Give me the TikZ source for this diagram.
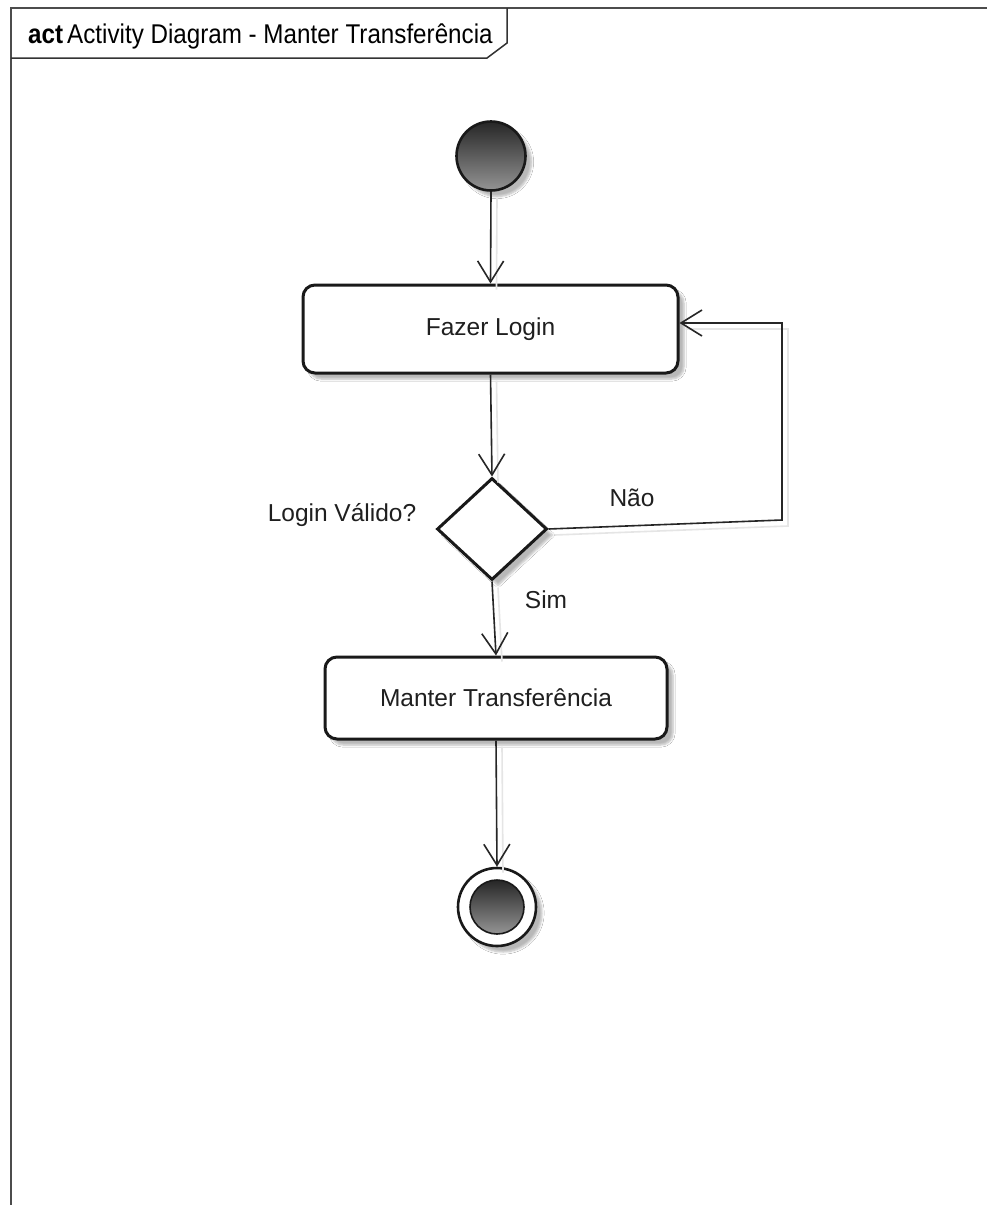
\documentclass[tikz,border=0pt]{standalone}
\usepackage{fontspec}
\setmainfont{Liberation Sans}
\usetikzlibrary{arrows.meta,shapes.geometric,shadows.blur}

\tikzset{
  lbl/.style={font=\fontsize{24.5}{28}\selectfont, text=black!88, inner sep=0pt},
  softshadow/.style={blur shadow={shadow xshift=6pt, shadow yshift=-6pt,
      shadow blur steps=6, shadow opacity=28}},
  action/.style={lbl, draw=black!90, line width=3pt, rounded corners=12pt,
      fill=white, softshadow},
  decision/.style={diamond, draw=black!90, line width=3pt, fill=white,
      inner sep=0pt, softshadow},
  dot/.style={circle, draw=black!90, line width=2.6pt, inner sep=0pt,
      top color=black!85, bottom color=black!42},
  flow/.style={draw=black!85, line width=1.6pt,
      -{Straight Barb[length=21pt,width=26pt,line width=1.6pt]},
      preaction={draw=black!10, line width=1.6pt, arrows=-,
        transform canvas={xshift=6pt,yshift=-6pt}}},
  frameline/.style={draw=black!70, line width=2.4pt},
}

\begin{document}
\begin{tikzpicture}[x=1pt,y=-1pt]
  \useasboundingbox (0,0) rectangle (986,1205);
  \fill[white] (0,0) rectangle (986,1205);

  % diagram frame and its name tab
  \draw[frameline] (11,1210) -- (11,8) -- (990,8);
  \draw[black!80, line width=1.5pt] (11,58) -- (487,58) -- (507,43) -- (507,8);
  \node[anchor=west, inner sep=0pt, font=\fontsize{24.2}{28}\selectfont, yscale=1.12]
    (title) at (28,36) {\textbf{act}\,Activity Diagram - Manter Transferência};

  % activity nodes
  \node[dot, minimum size=69pt, softshadow] (start) at (491,156) {};
  \node[action, minimum width=375pt, minimum height=88pt] (login) at (490.5,329) {Fazer Login};
  \node[decision, minimum width=110pt, minimum height=102pt] (dec) at (492,529) {};
  \node[action, minimum width=342pt, minimum height=82pt] (manter) at (496,698) {Manter Transferência};
  \node[circle, draw=black!90, line width=2.6pt, fill=white, minimum size=78pt,
        inner sep=0pt, softshadow] (final) at (497,907) {};
  \node[dot, minimum size=54pt, line width=1.6pt] (finaldot) at (final.center) {};

  % guard and decision labels
  \node[lbl] (question) at (342,515) {Login Válido?};
  \node[lbl] (nao) at (632,498) {Não};
  \node[lbl] (sim) at (546,600) {Sim};

  % loop-back corners
  \coordinate (c1) at (782,520);
  \coordinate (c2) at (782,323);

  % control flows
  \draw[flow] (start.south) -- (login.north);
  \draw[flow] (login.south) -- (dec.north);
  \draw[flow] (dec.south) -- (manter.north);
  \draw[flow] (manter.south) -- (final.north);
  \draw[flow] (dec.east) -- (c1) -- (c2) -- (login.east |- c2);
\end{tikzpicture}
\end{document}
